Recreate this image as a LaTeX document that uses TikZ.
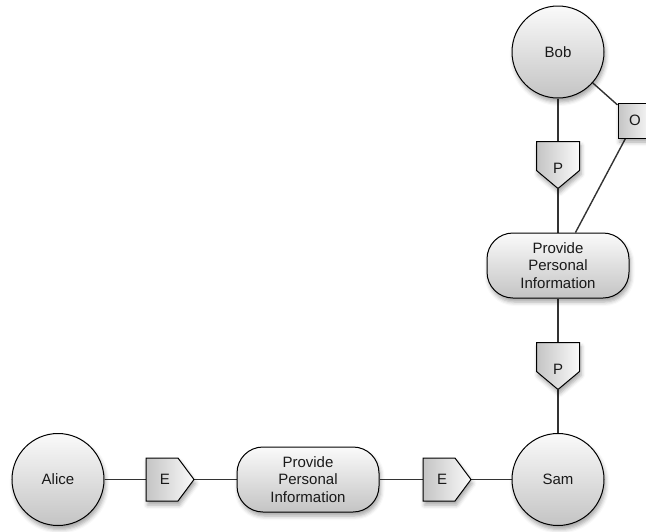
\documentclass[tikz,border=0pt]{standalone}
\usepackage{fontspec}
\setmainfont{Liberation Sans}
\usetikzlibrary{shadows.blur,backgrounds,calc}
\definecolor{shadetop}{HTML}{FAFAFA}
\definecolor{shadebot}{HTML}{C4C4C4}
\definecolor{wirecol}{HTML}{333333}
\tikzset{
  softshadow/.style={blur shadow={shadow xshift=1.5pt, shadow yshift=-4pt, shadow blur radius=4pt, shadow opacity=35}},
  labelfont/.style={font=\fontsize{15}{17.5}\selectfont, text=black!90},
  base/.style={draw=black, line width=1pt, top color=shadetop, bottom color=shadebot, softshadow, labelfont},
  actor/.style={base, circle, minimum size=92pt, inner sep=0pt},
  activity/.style={base, rectangle, rounded corners=26pt, minimum width=142pt, minimum height=65pt, align=center, inner sep=0pt},
  obox/.style={draw=black, line width=1pt, left color=shadebot, right color=shadetop, softshadow, labelfont, minimum width=34pt, minimum height=35pt, inner sep=0pt},
  slot/.style={inner sep=0pt, outer sep=0pt},
  eslot/.style={slot, minimum width=48pt, minimum height=43pt},
  pslot/.style={slot, minimum width=43pt, minimum height=47pt},
  tagfill/.style={draw=black, line width=1pt, left color=shadebot, right color=shadetop, softshadow},
  tagtext/.style={labelfont, inner sep=0pt},
  wire/.style={draw=wirecol, line width=1.4pt}
}
\begin{document}
\begin{tikzpicture}[x=1pt, y=-1pt]
\useasboundingbox (0,0) rectangle (646,531);
\clip (0,0) rectangle (646,531);

% actors
\node[actor] (bob) at (558,52) {Bob};
\node[actor] (sam) at (558,479.5) {Sam};
\node[actor] (alice) at (58,479.5) {Alice};

% activities
\node[activity] (pp1) at (558,265.5) {Provide\\Personal\\Information};
\node[activity] (pp2) at (308,479.5) {Provide\\Personal\\Information};

% square tag
\node[obox] (o) at (635,120.5) {O};

% pentagon tag slots
\node[pslot] (p1) at (558,165) {};
\node[pslot] (p2) at (558,366) {};
\node[eslot] (e1) at (170,479.5) {};
\node[eslot] (e2) at (447,479.5) {};

% downward pentagons
\foreach \t in {p1,p2}{
  \path[tagfill] (\t.north west) -- (\t.north east) -- ([yshift=18pt]\t.south east)
    -- (\t.south) -- ([yshift=18pt]\t.south west) -- cycle;
}
% rightward pentagons
\foreach \t in {e1,e2}{
  \path[tagfill] (\t.north west) -- ([xshift=-16pt]\t.north east) -- (\t.east)
    -- ([xshift=-16pt]\t.south east) -- (\t.south west) -- cycle;
}

\node[tagtext] (p1t) at ([yshift=-3pt]p1.center) {P};
\node[tagtext] (p2t) at ([yshift=-3pt]p2.center) {P};
\node[tagtext] (e1t) at ([xshift=-5pt]e1.center) {E};
\node[tagtext] (e2t) at ([xshift=-5pt]e2.center) {E};

% connectors
\begin{scope}[on background layer]
\draw[wire] (bob) -- (p1.north);
\draw[wire] (p1.south) -- (pp1);
\draw[wire] (bob) -- (o);
\draw[wire] (o) -- (pp1);
\draw[wire] (pp1) -- (p2.north);
\draw[wire] (p2.south) -- (sam);
\draw[wire] (alice) -- (e1.west);
\draw[wire] (e1.east) -- (pp2);
\draw[wire] (pp2) -- (e2.west);
\draw[wire] (e2.east) -- (sam);
\end{scope}
\end{tikzpicture}
\end{document}
